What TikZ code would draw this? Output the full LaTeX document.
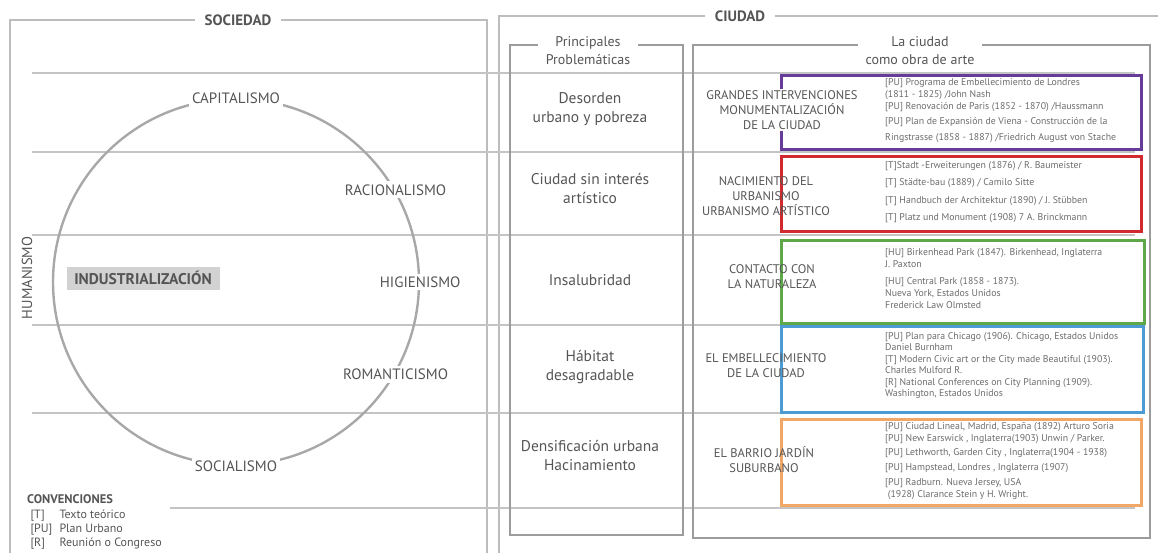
\documentclass[tikz,border=0pt]{standalone}
\usepackage{fontspec}
\setmainfont{PT Sans}
\usetikzlibrary{matrix,positioning}

\definecolor{gmarco}{HTML}{BDBDBD}
\definecolor{glinea}{HTML}{C4C4C4}
\definecolor{gcaja}{HTML}{9C9C9C}
\definecolor{gcirculo}{HTML}{A8A8A8}
\definecolor{gindustria}{HTML}{D2D2D2}
\definecolor{tinta}{HTML}{555555}
\definecolor{tintaclara}{HTML}{6C6C6C}
\definecolor{violeta}{HTML}{663C98}
\definecolor{rojo}{HTML}{D12A2E}
\definecolor{verde}{HTML}{5FA84A}
\definecolor{azul}{HTML}{4C9BD2}
\definecolor{naranja}{HTML}{F1A766}

\tikzset{
  marco/.style={draw=gmarco, line width=2.4pt},
  fila/.style={draw=glinea, line width=1.8pt},
  caja/.style={draw=gcaja, line width=2.6pt},
  titulo/.style={
    fill=white, text=tinta, inner xsep=10pt, inner ysep=2pt,
    font=\bfseries\fontsize{15}{17}\selectfont
  },
  subtitulo/.style={
    fill=white, text=tinta, align=center, inner xsep=8pt, inner ysep=0pt,
    font=\fontsize{14}{18}\selectfont
  },
  era/.style={fill=white, text=tinta, inner sep=3pt, font=\fontsize{15}{17}\selectfont},
  problema/.style={text=tinta, align=center, font=\fontsize{15.5}{19}\selectfont},
  obra/.style={
    draw=#1, line width=2.6pt, anchor=north west, inner sep=0pt,
    minimum width=360pt
  },
  obra/.default=violeta,
  tema/.style={text=tinta, align=center, inner sep=1pt, font=\fontsize{12.5}{15}\selectfont},
  refs/.style={
    text=tintaclara, align=left, anchor=north west, inner sep=0pt,
    font=\fontsize{9.8}{12.5}\selectfont
  },
}

\begin{document}
\begin{tikzpicture}[x=1pt,y=-1pt]
\useasboundingbox (0,0) rectangle (1158,552);

% grandes marcos
\draw[marco] (10,560) -- (10,20) -- (487,20) -- (487,560);
\draw[marco] (499,560) -- (499,16) -- (1170,16);

% filas
\foreach \y in {73,152,235,325,413}
  \draw[fila] (32,\y) -- (1135,\y);
\draw[fila] (170,508) -- (1135,508);

\node[titulo] (sociedad) at (238,20) {SOCIEDAD};
\node[titulo] (ciudad) at (740,16) {CIUDAD};

% columnas de la ciudad
\draw[caja] (510,45) rectangle (683,535);
\draw[caja] (693,45) rectangle (1150,538);
\node[subtitulo] (principales) at (588,51) {Principales\\Problemáticas};
\node[subtitulo] (obraarte) at (920,51) {La ciudad\\como obra de arte};

% ciclo de la sociedad
\node[circle, draw=gcirculo, line width=2.4pt, minimum size=366pt, inner sep=0pt] (ciclo) at (236,282) {};
\node[era] (capitalismo) at (ciclo.90) {CAPITALISMO};
\node[era] (racionalismo) at (ciclo.30) {RACIONALISMO};
\node[era] (higienismo) at (ciclo.0) {HIGIENISMO};
\node[era] (romanticismo) at (ciclo.-30) {ROMANTICISMO};
\node[era] (socialismo) at (ciclo.-90) {SOCIALISMO};

\node[fill=gindustria, text=tinta, minimum width=153pt, minimum height=23pt, inner xsep=2pt,
      font=\bfseries\fontsize{15.5}{17}\selectfont] (industria) at (143,278) {INDUSTRIALIZACIÓN};
\node[rotate=90, text=tinta, inner sep=0pt, font=\fontsize{14.5}{16}\selectfont] (humanismo) at (27,278) {HUMANISMO};

% convenciones
\node[anchor=west, inner sep=0pt, text=tinta, font=\bfseries\fontsize{12.5}{15}\selectfont] (convenciones) at (27,499) {CONVENCIONES};
\matrix[matrix of nodes, below=1pt of convenciones.south west, anchor=north west,
        nodes={anchor=base west, inner sep=0pt, text=tinta, text height=10pt, text depth=4.3pt,
               font=\fontsize{12}{14}\selectfont},
        column 1/.style={nodes={text width=29pt}}] (leyenda)
{
  {[T]}  & Texto teórico \\
  {[PU]} & Plan Urbano \\
  {[R]}  & Reunión o Congreso \\
};

% principales problematicas
\node[problema] (p1) at (590,109) {Desorden\\urbano y pobreza};
\node[problema] (p2) at (590,189) {Ciudad sin interés\\artístico};
\node[problema] (p3) at (590,280) {Insalubridad};
\node[problema] (p4) at (590,367) {Hábitat\\desagradable};
\node[problema] (p5) at (590,456) {Densificación urbana\\Hacinamiento};

% la ciudad como obra de arte
\node[obra=violeta, minimum height=74pt] (b1) at (780,74) {};
\node[obra=rojo, minimum height=75pt] (b2) at (780,155) {};
\node[obra=verde, minimum height=83pt, minimum width=363pt] (b3) at (780,239) {};
\node[obra=azul, minimum height=86pt, minimum width=362pt] (b4) at (780,325) {};
\node[obra=naranja, minimum height=86pt] (b5) at (780,418) {};

\node[tema, fill=white] (t1) at (782,110) {GRANDES INTERVENCIONES\\MONUMENTALIZACIÓN\\DE LA CIUDAD};
\node[tema] (t2) at (766,196) {NACIMIENTO DEL\\URBANISMO\\URBANISMO ARTÍSTICO};
\node[tema] (t3) at (772,277) {CONTACTO CON\\LA NATURALEZA};
\node[tema] (t4) at (766,366) {EL EMBELLECIMIENTO\\DE LA CIUDAD};
\node[tema] (t5) at (764,460) {EL BARRIO JARDÍN\\SUBURBANO};

\node[refs] (r1) at (885,78) {[PU] Programa de Embellecimiento de Londres\\[-0.5pt]
  (1811 - 1825) /John Nash\\[0pt]
  [PU] Renovación de Paris (1852 - 1870) /Haussmann\\[2.5pt]
  [PU] Plan de Expansión de Viena - Construcción de la\\[3.5pt]
  Ringstrasse (1858 - 1887) /Friedrich August von Stache};
\node[refs] (r2) at (885,161) {[T]Stadt -Erweiterungen (1876) / R. Baumeister\\[4.8pt]
  [T] Städte-bau (1889) / Camilo Sitte\\[5.5pt]
  [T] Handbuch der Architektur (1890) / J. Stübben\\[4.5pt]
  [T] Platz und Monument (1908) 7 A. Brinckmann};
\node[refs] (r3) at (885,248) {[HU] Birkenhead Park  (1847). Birkenhead, Inglaterra\\
  J. Paxton\\[4.5pt]
  [HU] Central Park  (1858 -  1873).\\[-0.5pt]
  Nueva York, Estados Unidos\\[-0.5pt]
  Frederick Law Olmsted};
\node[refs] (r4) at (885,332) {[PU] Plan para Chicago  (1906). Chicago, Estados Unidos\\[-1pt]
  Daniel Burnham\\[-1pt]
  [T] Modern Civic art or the City made Beautiful   (1903).\\[-1pt]
  Charles Mulford R.\\[-1pt]
  [R] National Conferences  on City Planning  (1909).\\[-1pt]
  Washington, Estados Unidos};
\node[refs] (r5) at (885,422) {[PU] Ciudad Lineal, Madrid, España (1892) Arturo Soria\\[-0.5pt]
  [PU] New Earswick , Inglaterra(1903) Unwin /  Parker.\\[1.5pt]
  [PU] Lethworth, Garden City , Inglaterra(1904 - 1938)\\[2.5pt]
  [PU] Hampstead, Londres , Inglaterra (1907)\\[2.5pt]
  [PU] Radburn. Nueva Jersey, USA\\[-0.5pt]
  \ (1928) Clarance Stein y  H. Wright.};
\end{tikzpicture}
\end{document}
